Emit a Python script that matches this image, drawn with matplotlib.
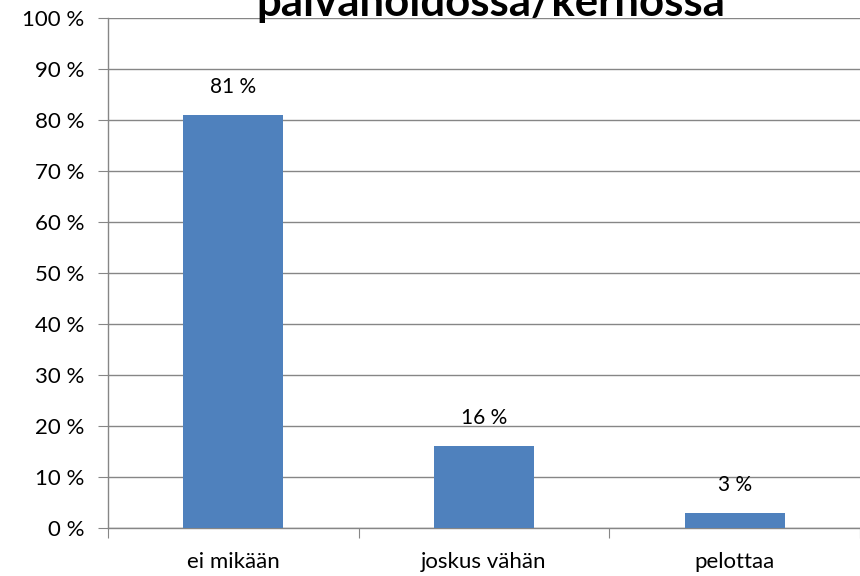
import matplotlib
matplotlib.use("Agg")
import matplotlib.pyplot as plt
from matplotlib.ticker import MultipleLocator, FuncFormatter

categories = ["ei mikään", "joskus vähän", "pelottaa"]
values = [81, 16, 3]
title = "päivähoidossa/kerhossa"

plt.rcParams['font.family'] = ['Lato', 'DejaVu Sans']

fig = plt.figure(figsize=(8.6, 5.76), dpi=100)
ax = fig.add_axes([108/860, 1 - 528/576, (860-108)/860, (528-18)/576])

x = list(range(len(categories)))
ax.bar(x, values, width=0.4, color="#4F81BD", zorder=3)
for xi, v in zip(x, values):
    ax.annotate(f"{v} %", (xi, v), xytext=(0, 13), textcoords="offset points",
                ha="center", va="bottom", fontsize=15, color="black")

ax.set_xlim(-0.5, 2.5)
ax.set_ylim(0, 100)
ax.yaxis.set_major_locator(MultipleLocator(10))
ax.yaxis.set_major_formatter(FuncFormatter(lambda v, p: f"{int(v)} %"))
ax.set_xticks([-0.5, 0.5, 1.5, 2.5], minor=False)
ax.set_xticklabels([])
ax.set_xticks(x, minor=True)
ax.set_xticklabels(categories, minor=True)
ax.tick_params(axis="x", which="minor", length=0, pad=17, labelsize=16)
ax.tick_params(axis="x", which="major", length=7, color="#868686", direction="out")
ax.tick_params(axis="y", length=7, color="#868686", labelsize=16, pad=10)
ax.grid(axis="y", color="#868686", linewidth=1, zorder=0)
for s in ["top", "right"]:
    ax.spines[s].set_visible(False)
for s in ["left", "bottom"]:
    ax.spines[s].set_color("#868686")
    ax.spines[s].set_linewidth(1)

fig.text(491/860, 1 - 16/576, title, ha="center", va="baseline",
         fontsize=31.5, fontweight="bold")

fig.savefig("out.png", dpi=100)
